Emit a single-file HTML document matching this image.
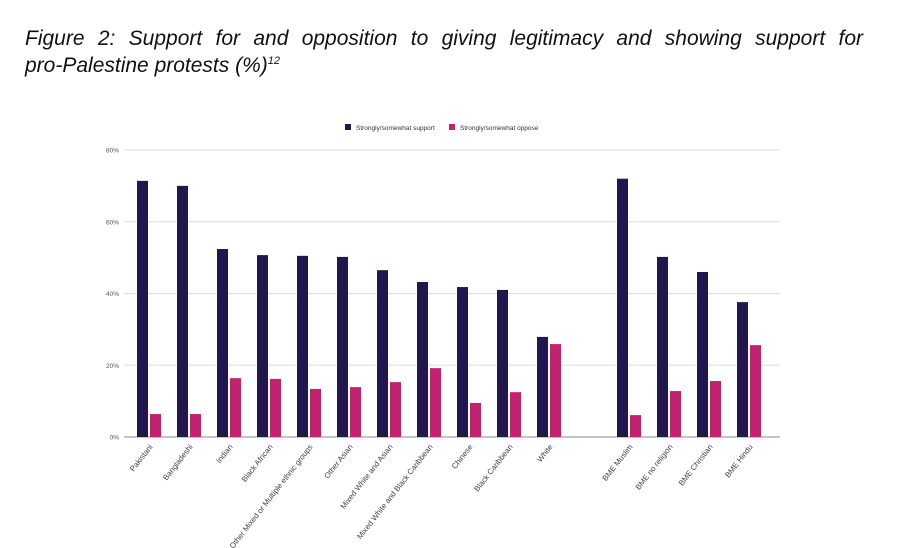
<!DOCTYPE html>
<html><head><meta charset="utf-8"><style>
body{margin:0;background:#fff;width:900px;height:548px;overflow:hidden;font-family:"Liberation Sans",sans-serif}
#title{position:absolute;left:25px;top:27px;width:838px;font-style:italic;font-size:21px;line-height:23px;color:#111;text-align:justify;text-align-last:left}
#title .l1{text-align-last:justify;display:block}
sup{font-size:11px}
</style></head><body>
<div id="title"><span class="l1">Figure 2: Support for and opposition to giving legitimacy and showing support for</span>pro-Palestine protests (%)<sup>12</sup></div>
<svg id="chart" width="900" height="548" style="position:absolute;left:0;top:0"></svg>
<script>
const categories=["Pakistani","Bangladeshi","Indian","Black African","Other Mixed or Multiple ethnic groups","Other Asian","Mixed White and Asian","Mixed White and Black Caribbean","Chinese","Black Caribbean","White","","BME Muslim","BME no religion","BME Christian","BME Hindu"];
const supportValues=[71.4,70,52.4,50.7,50.5,50.2,46.5,43.2,41.8,41,27.9,null,72,50.2,46,37.6];
const opposeValues=[6.4,6.4,16.4,16.2,13.4,13.9,15.3,19.2,9.5,12.5,25.9,null,6.1,12.8,15.6,25.6];
const tickValues=[0,20,40,60,80];
const tickLabels=["0%","20%","40%","60%","80%"];
const seriesNames=["Strongly/somewhat support","Strongly/somewhat oppose"];
const colors=["#21174d","#c0246f"];
const svg=document.getElementById('chart');
const NS="http://www.w3.org/2000/svg";
const y0=437,pxPer=(437-150)/80;
const y=v=>y0-v*pxPer;
const xc=i=>149+i*40;
function mk(t,a,p){const e=document.createElementNS(NS,t);for(const k in a)e.setAttribute(k,a[k]);(p||svg).appendChild(e);return e;}
tickValues.forEach((v,i)=>{
 const g=mk('line',{x1:124,x2:780,y1:y(v),y2:y(v),stroke:v===0?'#888':'#ddd','stroke-width':1});
 
 
 const t=mk('text',{x:119,y:y(v)+2.5,'text-anchor':'end','font-size':6.5,fill:'#555'});
 t.textContent=tickLabels[i];
 
 
});
categories.forEach((c,i)=>{
 [supportValues[i],opposeValues[i]].forEach((v,s)=>{
  if(v==null)return;
  const r=mk('rect',{x:s===0?xc(i)-12:xc(i)+1,y:y(v),width:11,height:y0-y(v),fill:colors[s]});
  
  
 });
 if(!c)return;
 const t=mk('text',{transform:`translate(${xc(i)+4},447) rotate(-52)`,'text-anchor':'end','font-size':7.8,fill:'#444'});
 t.textContent=c;
 
 
});
const lx=[345,449];
seriesNames.forEach((n,s)=>{
 const g=mk('g',{});
 
 
 mk('rect',{x:lx[s],y:124,width:6,height:6,fill:colors[s]},g);
 const t=mk('text',{x:lx[s]+11,y:130,'font-size':6.5,fill:'#333'},g);
 t.textContent=n;
});
</script>
</body></html>
